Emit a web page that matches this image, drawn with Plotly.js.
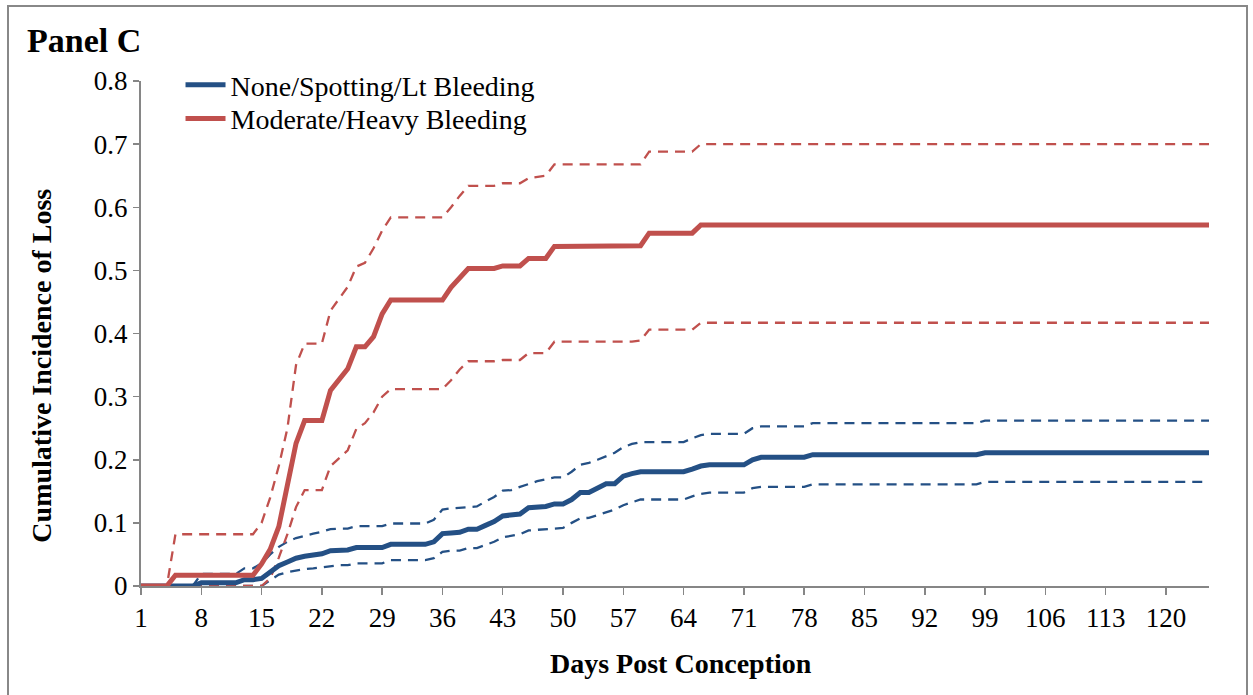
<!DOCTYPE html>
<html>
<head>
<meta charset="utf-8">
<script src="https://cdn.plot.ly/plotly-3.0.1.min.js"></script>
<style>
  html, body { margin: 0; padding: 0; background: #fff; }
  #wrap { position: relative; width: 1253px; height: 695px; overflow: hidden; }
  #chart { position: absolute; left: 0; top: 0; width: 1253px; height: 695px; }
  #frame { position: absolute; left: 7px; top: 5px; width: 1241px; height: 700px;
           border: 2px solid #888888; box-sizing: border-box; pointer-events: none; }
</style>
</head>
<body>
<div id="wrap">
  <div id="chart"></div>
  <div id="frame"></div>
</div>
<script>
// Cumulative incidence of loss by day post conception (days 1..125)
const seriesNames = ["None/Spotting/Lt Bleeding", "Moderate/Heavy Bleeding"];
const xTickLabels = [1, 8, 15, 22, 29, 36, 43, 50, 57, 64, 71, 78, 85, 92, 99, 106, 113, 120];
const yTickValues = [0, 0.1, 0.2, 0.3, 0.4, 0.5, 0.6, 0.7, 0.8];

// Moderate/Heavy Bleeding: estimate, upper CI, lower CI
const redMain = [
  0, 0, 0, 0, 0.017, 0.017, 0.017, 0.017, 0.017, 0.017,
  0.017, 0.017, 0.017, 0.017, 0.035, 0.058, 0.094, 0.16, 0.226, 0.262,
  0.262, 0.262, 0.31, 0.327, 0.344, 0.379, 0.379, 0.395, 0.431, 0.453,
  0.453, 0.453, 0.453, 0.453, 0.453, 0.453, 0.473, 0.488, 0.503, 0.503,
  0.503, 0.503, 0.507, 0.507, 0.507, 0.519, 0.519, 0.519, 0.538, 0.538,
  0.538, 0.538, 0.538, 0.538, 0.538, 0.538, 0.538, 0.538, 0.539, 0.559,
  0.559, 0.559, 0.559, 0.559, 0.559, 0.572, 0.572, 0.572, 0.572, 0.572,
  0.572, 0.572, 0.572, 0.572, 0.572, 0.572, 0.572, 0.572, 0.572, 0.572,
  0.572, 0.572, 0.572, 0.572, 0.572, 0.572, 0.572, 0.572, 0.572, 0.572,
  0.572, 0.572, 0.572, 0.572, 0.572, 0.572, 0.572, 0.572, 0.572, 0.572,
  0.572, 0.572, 0.572, 0.572, 0.572, 0.572, 0.572, 0.572, 0.572, 0.572,
  0.572, 0.572, 0.572, 0.572, 0.572, 0.572, 0.572, 0.572, 0.572, 0.572,
  0.572, 0.572, 0.572, 0.572, 0.572
];
const redUpper = [
  0, 0, 0, 0, 0.082, 0.082, 0.082, 0.082, 0.082, 0.082,
  0.082, 0.082, 0.082, 0.082, 0.1, 0.14, 0.19, 0.25, 0.35, 0.384,
  0.384, 0.384, 0.436, 0.455, 0.474, 0.506, 0.512, 0.535, 0.563, 0.584,
  0.584, 0.584, 0.584, 0.584, 0.584, 0.584, 0.6, 0.618, 0.634, 0.634,
  0.634, 0.634, 0.638, 0.638, 0.638, 0.646, 0.648, 0.65, 0.668, 0.668,
  0.668, 0.668, 0.668, 0.668, 0.668, 0.668, 0.668, 0.668, 0.668, 0.688,
  0.688, 0.688, 0.688, 0.688, 0.688, 0.7, 0.7, 0.7, 0.7, 0.7,
  0.7, 0.7, 0.7, 0.7, 0.7, 0.7, 0.7, 0.7, 0.7, 0.7,
  0.7, 0.7, 0.7, 0.7, 0.7, 0.7, 0.7, 0.7, 0.7, 0.7,
  0.7, 0.7, 0.7, 0.7, 0.7, 0.7, 0.7, 0.7, 0.7, 0.7,
  0.7, 0.7, 0.7, 0.7, 0.7, 0.7, 0.7, 0.7, 0.7, 0.7,
  0.7, 0.7, 0.7, 0.7, 0.7, 0.7, 0.7, 0.7, 0.7, 0.7,
  0.7, 0.7, 0.7, 0.7, 0.7
];
const redLower = [
  0, 0, 0, 0, 0, 0, 0, 0, 0, 0,
  0, 0, 0, 0, 0, 0.012, 0.045, 0.082, 0.125, 0.152,
  0.152, 0.152, 0.19, 0.203, 0.215, 0.249, 0.258, 0.275, 0.3, 0.312,
  0.312, 0.312, 0.312, 0.312, 0.312, 0.312, 0.326, 0.343, 0.356, 0.356,
  0.356, 0.356, 0.358, 0.358, 0.358, 0.369, 0.369, 0.369, 0.387, 0.387,
  0.387, 0.387, 0.387, 0.387, 0.387, 0.387, 0.387, 0.387, 0.389, 0.406,
  0.406, 0.406, 0.406, 0.406, 0.406, 0.417, 0.417, 0.417, 0.417, 0.417,
  0.417, 0.417, 0.417, 0.417, 0.417, 0.417, 0.417, 0.417, 0.417, 0.417,
  0.417, 0.417, 0.417, 0.417, 0.417, 0.417, 0.417, 0.417, 0.417, 0.417,
  0.417, 0.417, 0.417, 0.417, 0.417, 0.417, 0.417, 0.417, 0.417, 0.417,
  0.417, 0.417, 0.417, 0.417, 0.417, 0.417, 0.417, 0.417, 0.417, 0.417,
  0.417, 0.417, 0.417, 0.417, 0.417, 0.417, 0.417, 0.417, 0.417, 0.417,
  0.417, 0.417, 0.417, 0.417, 0.417
];

// None/Spotting/Lt Bleeding: estimate, upper CI, lower CI
const blueMain = [
  0, 0, 0, 0, 0, 0, 0, 0.005, 0.005, 0.005,
  0.005, 0.005, 0.01, 0.01, 0.012, 0.022, 0.032, 0.038, 0.044, 0.047,
  0.049, 0.051, 0.056, 0.057, 0.057, 0.061, 0.061, 0.061, 0.061, 0.066,
  0.066, 0.066, 0.066, 0.066, 0.07, 0.083, 0.084, 0.085, 0.09, 0.09,
  0.096, 0.102, 0.111, 0.113, 0.114, 0.124, 0.125, 0.126, 0.13, 0.13,
  0.137, 0.148, 0.148, 0.155, 0.162, 0.162, 0.174, 0.178, 0.181, 0.181,
  0.181, 0.181, 0.181, 0.181, 0.185, 0.19, 0.192, 0.192, 0.192, 0.192,
  0.192, 0.2, 0.204, 0.204, 0.204, 0.204, 0.204, 0.204, 0.208, 0.208,
  0.208, 0.208, 0.208, 0.208, 0.208, 0.208, 0.208, 0.208, 0.208, 0.208,
  0.208, 0.208, 0.208, 0.208, 0.208, 0.208, 0.208, 0.208, 0.211, 0.211,
  0.211, 0.211, 0.211, 0.211, 0.211, 0.211, 0.211, 0.211, 0.211, 0.211,
  0.211, 0.211, 0.211, 0.211, 0.211, 0.211, 0.211, 0.211, 0.211, 0.211,
  0.211, 0.211, 0.211, 0.211, 0.211
];
const blueUpper = [
  0, 0, 0, 0, 0, 0, 0, 0.019, 0.019, 0.019,
  0.019, 0.019, 0.028, 0.028, 0.036, 0.05, 0.062, 0.07, 0.076, 0.08,
  0.083, 0.086, 0.09, 0.091, 0.091, 0.095, 0.095, 0.095, 0.095, 0.099,
  0.099, 0.099, 0.099, 0.099, 0.105, 0.121, 0.123, 0.124, 0.126, 0.126,
  0.134, 0.141, 0.151, 0.152, 0.157, 0.162, 0.166, 0.169, 0.172, 0.172,
  0.181, 0.192, 0.195, 0.2, 0.206, 0.211, 0.22, 0.225, 0.228, 0.228,
  0.228, 0.228, 0.228, 0.228, 0.234, 0.239, 0.241, 0.241, 0.241, 0.241,
  0.241, 0.25, 0.253, 0.253, 0.253, 0.253, 0.253, 0.253, 0.258, 0.258,
  0.258, 0.258, 0.258, 0.258, 0.258, 0.258, 0.258, 0.258, 0.258, 0.258,
  0.258, 0.258, 0.258, 0.258, 0.258, 0.258, 0.258, 0.258, 0.262, 0.262,
  0.262, 0.262, 0.262, 0.262, 0.262, 0.262, 0.262, 0.262, 0.262, 0.262,
  0.262, 0.262, 0.262, 0.262, 0.262, 0.262, 0.262, 0.262, 0.262, 0.262,
  0.262, 0.262, 0.262, 0.262, 0.262
];
const blueLower = [
  0, 0, 0, 0, 0, 0, 0, 0, 0, 0,
  0, 0, 0, 0, 0, 0.009, 0.018, 0.022, 0.025, 0.027,
  0.028, 0.03, 0.032, 0.033, 0.033, 0.036, 0.036, 0.036, 0.036, 0.041,
  0.041, 0.041, 0.041, 0.041, 0.044, 0.054, 0.056, 0.056, 0.06, 0.06,
  0.065, 0.07, 0.077, 0.08, 0.082, 0.088, 0.089, 0.09, 0.092, 0.092,
  0.1, 0.107, 0.108, 0.112, 0.116, 0.121, 0.128, 0.133, 0.137, 0.137,
  0.137, 0.137, 0.137, 0.137, 0.142, 0.146, 0.148, 0.148, 0.148, 0.148,
  0.148, 0.155, 0.157, 0.157, 0.157, 0.157, 0.157, 0.157, 0.161, 0.161,
  0.161, 0.161, 0.161, 0.161, 0.161, 0.161, 0.161, 0.161, 0.161, 0.161,
  0.161, 0.161, 0.161, 0.161, 0.161, 0.161, 0.161, 0.161, 0.165, 0.165,
  0.165, 0.165, 0.165, 0.165, 0.165, 0.165, 0.165, 0.165, 0.165, 0.165,
  0.165, 0.165, 0.165, 0.165, 0.165, 0.165, 0.165, 0.165, 0.165, 0.165,
  0.165, 0.165, 0.165, 0.165, 0.165
];

// category axis: day index of each value
const days = blueMain.map((_, i) => i + 1);

const BLUE = "#245085";
const RED = "#C0504D";
const SERIF = "Liberation Serif, Times New Roman, serif";

function line(y, color, width, dash, name, show, legendId) {
  const t = {
    x: days, y: y, type: "scatter", mode: "lines",
    name: name, showlegend: show,
    line: { color: color, width: width, dash: dash, shape: "linear" },
    hoverinfo: "skip"
  };
  if (legendId) t.legend = legendId;
  return t;
}

const traces = [
  line(blueUpper, BLUE, 2.3, "10px,7px", "blue upper", false),
  line(blueLower, BLUE, 2.3, "10px,7px", "blue lower", false),
  line(redUpper, RED, 2.3, "10px,7px", "red upper", false),
  line(redLower, RED, 2.3, "10px,7px", "red lower", false),
  line(blueMain, BLUE, 5, "solid", seriesNames[0], true, "legend"),
  line(redMain, RED, 5, "solid", seriesNames[1], true, "legend2")
];

const legendBase = {
  x: 0.037, xanchor: "left", yanchor: "middle",
  bgcolor: "rgba(0,0,0,0)", borderwidth: 0,
  font: { family: SERIF, size: 28, color: "#000" }, itemwidth: 40
};

const layout = {
  width: 1253, height: 695,
  margin: { l: 141, r: 44, t: 81, b: 109, pad: 0 },
  paper_bgcolor: "#ffffff", plot_bgcolor: "#ffffff",
  font: { family: SERIF, size: 27, color: "#000000" },
  showlegend: true,
  legend: Object.assign({}, legendBase, { y: 0.992 }),
  legend2: Object.assign({}, legendBase, { y: 0.925 }),
  xaxis: {
    range: [1, 125], tickmode: "array", tickvals: xTickLabels,
    ticktext: xTickLabels.map(String),
    showgrid: false, zeroline: false,
    showline: true, linecolor: "#868686", linewidth: 2,
    ticks: "outside", ticklen: 7, tickwidth: 1.5, tickcolor: "#868686",
    tickfont: { family: SERIF, size: 27, color: "#000" },
    fixedrange: true
  },
  yaxis: {
    range: [0, 0.8], tickmode: "array", tickvals: yTickValues,
    ticktext: yTickValues.map(v => v === 0 ? "0" : v.toFixed(1)),
    showgrid: false, zeroline: false,
    showline: true, linecolor: "#868686", linewidth: 2,
    ticks: "outside", ticklen: 6, tickwidth: 1.5, tickcolor: "#868686",
    tickfont: { family: SERIF, size: 27, color: "#000" },
    fixedrange: true
  },
  annotations: [
    {
      text: "<b>Panel C</b>", xref: "paper", yref: "paper",
      x: -0.109, y: 1.081, xanchor: "left", yanchor: "middle",
      showarrow: false, font: { family: SERIF, size: 34, color: "#000" }
    },
    {
      text: "<b>Cumulative Incidence of Loss</b>", xref: "paper", yref: "paper",
      x: -0.094, y: 0.4356, xanchor: "center", yanchor: "middle", textangle: -90,
      showarrow: false, font: { family: SERIF, size: 28, color: "#000" }
    },
    {
      text: "<b>Days Post Conception</b>", xref: "paper", yref: "paper",
      x: 0.5056, y: -0.154, xanchor: "center", yanchor: "middle",
      showarrow: false, font: { family: SERIF, size: 28, color: "#000" }
    }
  ]
};

Plotly.newPlot("chart", traces, layout, { staticPlot: true, displayModeBar: false });
</script>
</body>
</html>
